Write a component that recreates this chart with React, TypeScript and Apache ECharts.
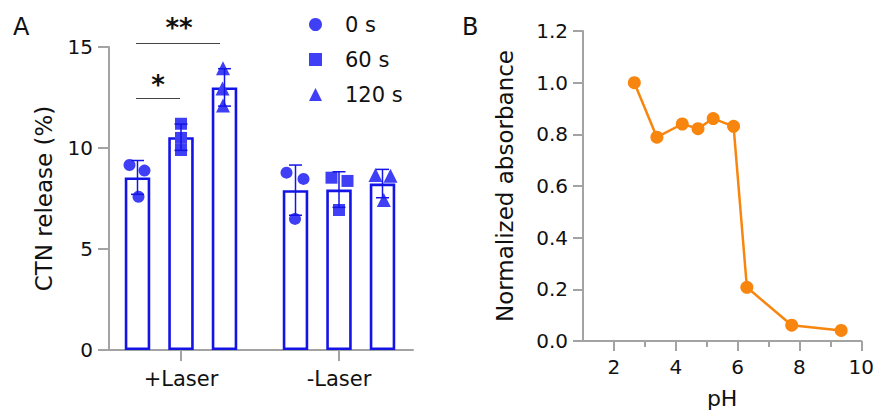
import React, { useEffect, useRef } from "react";
import * as echarts from "echarts";

// ---------- Data ----------
const groups = ["+Laser", "-Laser"];
const timeNames = ["0 s", "60 s", "120 s"];
// replicate values per time point, per group: [group][replicate]
const points0s = [
  [9.16, 8.88, 7.59],
  [8.78, 8.47, 6.49],
];
const points60s = [
  [11.2, 10.5, 9.9],
  [8.53, 8.37, 6.93],
];
const points120s = [
  [13.95, 12.95, 12.1],
  [8.66, 8.63, 7.43],
];
const yTicksA = [0, 5, 10, 15];

const phValues = [2.66, 3.39, 4.21, 4.72, 5.21, 5.87, 6.3, 7.75, 9.35];
const absorbance = [1.0, 0.789, 0.84, 0.822, 0.861, 0.831, 0.208, 0.061, 0.041];
const phMajorTicks = [2, 4, 6, 8, 10];
const phMinorTicks = [3, 5, 7, 9];

// ---------- Style ----------
const BAR_BLUE = "#1414E6";
const DOT_BLUE = "#3F3FF5";
const ORANGE = "#F8850E";
const AXIS_GRAY = "#A3A3A3";
const TEXT = "#111";
const FONT = "DejaVu Sans, Liberation Sans, Arial, sans-serif";
const BAR_W = 25.5;
const BAR_SPACING = 43.5;
// horizontal scatter jitter in px: [time][group][replicate]
const JITTER = [
  [[-8, 7, 1], [-9, 8, -0.5]],
  [[0, 0, 0], [-7.5, 8.5, 0]],
  [[-1.5, -2, -1.5], [-7, 8, 1.3]],
];
const SYMBOLS = ["circle", "rect", "triangle"];

const allPoints = [points0s, points60s, points120s];

function mean(a: number[]) {
  return a.reduce((s, v) => s + v, 0) / a.length;
}
function sd(a: number[]) {
  const m = mean(a);
  return Math.sqrt(a.reduce((s, v) => s + (v - m) * (v - m), 0) / (a.length - 1));
}

export default function App() {
  const ref = useRef<HTMLDivElement>(null);
  useEffect(() => {
    document.body.style.margin = "0";
    const chart = echarts.init(ref.current!, undefined, { renderer: "svg" });

    const barSeries: any[] = [];
    const pointSeries: any[] = [];
    const errSeries: any[] = [];
    allPoints.forEach((pts, s) => {
      const off = (s - 1) * BAR_SPACING;
      barSeries.push({
        type: "bar",
        name: "bar" + s,
        xAxisIndex: 0,
        yAxisIndex: 0,
        barWidth: BAR_W,
        barGap: ((BAR_SPACING - BAR_W) / BAR_W) * 100 + "%",
        data: pts.map((p) => mean(p)),
        itemStyle: { color: "#fff", borderColor: BAR_BLUE, borderWidth: 2.6 },
        z: 2,
        silent: true,
      });
      const pdata: any[] = [];
      pts.forEach((reps, g) => {
        reps.forEach((v, r) => {
          pdata.push({ value: [g, v], symbolOffset: [off + JITTER[s][g][r], 0] });
        });
      });
      pointSeries.push({
        type: "scatter",
        name: timeNames[s],
        xAxisIndex: 0,
        yAxisIndex: 0,
        symbol: SYMBOLS[s],
        symbolSize: s === 2 ? 14 : 12,
        itemStyle: { color: DOT_BLUE, opacity: 1 },
        data: pdata,
        z: 3,
      });
      errSeries.push({
        type: "custom",
        name: "err" + s,
        xAxisIndex: 0,
        yAxisIndex: 0,
        z: 4,
        silent: true,
        data: pts.map((p, g) => [g, mean(p), sd(p)]),
        renderItem: (params: any, api: any) => {
          const g = api.value(0);
          const m = api.value(1);
          const d = api.value(2);
          const top = api.coord([g, m + d]);
          const bot = api.coord([g, m - d]);
          const x = top[0] + off;
          const cap = 6.5;
          const style = { stroke: BAR_BLUE, lineWidth: 1.5 };
          return {
            type: "group",
            children: [
              { type: "line", shape: { x1: x, y1: top[1], x2: x, y2: bot[1] }, style },
              { type: "line", shape: { x1: x - cap, y1: top[1], x2: x + cap, y2: top[1] }, style },
              { type: "line", shape: { x1: x - cap, y1: bot[1], x2: x + cap, y2: bot[1] }, style },
            ],
          };
        },
      });
    });

    const axisLine = { show: true, lineStyle: { color: AXIS_GRAY, width: 2 } };
    const tickStyle = { lineStyle: { color: AXIS_GRAY, width: 2 } };

    chart.setOption({
      animation: false,
      textStyle: { fontFamily: FONT },
      grid: [
        { left: 102, top: 47, width: 316, height: 303 },
        { left: 109, top: 47, width: 304, height: 303 },
        { left: 583, top: 31, width: 280, height: 312.5 },
      ],
      legend: {
        orient: "vertical",
        left: 304,
        top: 9,
        itemWidth: 13,
        itemHeight: 13,
        itemGap: 14,
        data: timeNames.map((n, i) => ({ name: n, icon: SYMBOLS[i] })),
        textStyle: { fontSize: 21, color: TEXT, padding: [0, 0, 0, 18], fontFamily: FONT },
        selectedMode: false,
      },
      xAxis: [
        {
          type: "category",
          gridIndex: 0,
          data: groups,
          axisLine: { show: false },
          axisTick: { show: true, alignWithLabel: true, length: 11, ...tickStyle },
          axisLabel: { fontSize: 21, color: TEXT, margin: 18, fontFamily: FONT },
        },
        {
          type: "value",
          gridIndex: 1,
          min: 0,
          max: 1,
          axisLine,
          axisTick: { show: false },
          axisLabel: { show: false },
          splitLine: { show: false },
        },
        {
          type: "value",
          gridIndex: 2,
          position: "bottom",
          min: 1,
          max: 10,
          name: "pH",
          nameLocation: "middle",
          nameGap: 46,
          nameTextStyle: { fontSize: 22, color: TEXT, fontFamily: FONT },
          axisLine,
          axisTick: { show: true, length: 10, customValues: phMajorTicks, ...tickStyle },
          axisLabel: { fontSize: 20, color: TEXT, margin: 16, customValues: phMajorTicks, fontFamily: FONT },
          splitLine: { show: false },
        },
        {
          type: "value",
          gridIndex: 2,
          position: "bottom",
          min: 1,
          max: 10,
          axisLine: { show: false },
          axisTick: { show: true, length: 6, customValues: phMinorTicks, ...tickStyle },
          axisLabel: { show: false },
          splitLine: { show: false },
        },
      ],
      yAxis: [
        { type: "value", gridIndex: 0, min: 0, max: 15, show: false },
        {
          type: "value",
          gridIndex: 1,
          min: 0,
          max: 15,
          interval: 5,
          name: "CTN release (%)",
          nameLocation: "middle",
          nameGap: 54,
          nameTextStyle: { fontSize: 23, color: TEXT, fontFamily: FONT },
          axisLine,
          axisTick: { show: true, length: 11, customValues: yTicksA, ...tickStyle },
          axisLabel: { fontSize: 20, color: TEXT, margin: 16, customValues: yTicksA, fontFamily: FONT },
          splitLine: { show: false },
        },
        {
          type: "value",
          gridIndex: 2,
          min: 0,
          max: 1.2,
          interval: 0.2,
          name: "Normalized absorbance",
          nameLocation: "middle",
          nameGap: 67,
          nameTextStyle: { fontSize: 23, color: TEXT, fontFamily: FONT },
          axisLine,
          axisTick: { show: true, length: 10, ...tickStyle },
          axisLabel: {
            fontSize: 20,
            color: TEXT,
            margin: 15,
            fontFamily: FONT,
            formatter: (v: number) => v.toFixed(1),
          },
          splitLine: { show: false },
        },
      ],
      graphic: [
        { type: "text", left: 13, top: 15, style: { text: "A", fontSize: 24, fill: TEXT, fontFamily: FONT } },
        { type: "text", left: 462, top: 15, style: { text: "B", fontSize: 24, fill: TEXT, fontFamily: FONT } },
        { type: "line", shape: { x1: 136, y1: 43.5, x2: 220, y2: 43.5 }, style: { stroke: "#444", lineWidth: 1.2 } },
        { type: "line", shape: { x1: 136, y1: 98.5, x2: 180, y2: 98.5 }, style: { stroke: "#444", lineWidth: 1.2 } },
        {
          type: "text",
          x: 179,
          y: 28,
          style: { text: "**", fontSize: 26, fontWeight: "bold", fill: TEXT, align: "center", verticalAlign: "middle", fontFamily: FONT },
        },
        {
          type: "text",
          x: 158,
          y: 85,
          style: { text: "*", fontSize: 26, fontWeight: "bold", fill: TEXT, align: "center", verticalAlign: "middle", fontFamily: FONT },
        },
      ],
      series: [
        ...barSeries,
        ...pointSeries,
        ...errSeries,
        {
          type: "line",
          name: "absorbance",
          xAxisIndex: 2,
          yAxisIndex: 2,
          data: phValues.map((x, i) => [x, absorbance[i]]),
          symbol: "circle",
          symbolSize: 13,
          itemStyle: { color: ORANGE },
          lineStyle: { color: ORANGE, width: 2.5 },
          z: 3,
        },
      ],
    });
    return () => chart.dispose();
  }, []);
  return <div ref={ref} style={{ width: 877, height: 414 }} />;
}
